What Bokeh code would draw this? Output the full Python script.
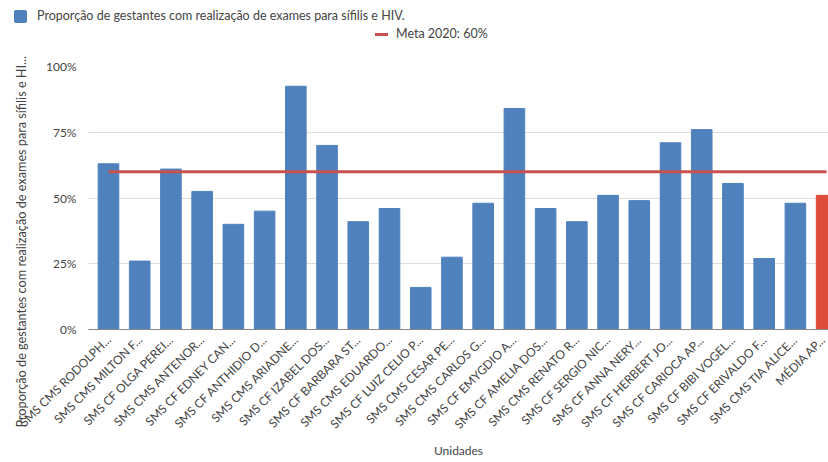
import math
from bokeh.plotting import figure
from bokeh.layouts import column
from bokeh.models import Range1d, FixedTicker, PrintfTickFormatter, Title, Div
from bokeh.embed import file_html
from bokeh.resources import INLINE

units = [
    "SMS CMS RODOLPH...", "SMS CMS MILTON F...", "SMS CF OLGA PEREI...", "SMS CMS ANTENOR...",
    "SMS CF EDNEY CAN...", "SMS CF ANTHIDIO D...", "SMS CMS ARIADNE...", "SMS CF IZABEL DOS...",
    "SMS CF BARBARA ST...", "SMS CMS EDUARDO...", "SMS CF LUIZ CELIO P...", "SMS CMS CESAR PE...",
    "SMS CMS CARLOS G...", "SMS CF EMYGDIO A...", "SMS CF AMELIA DOS...", "SMS CMS RENATO R...",
    "SMS CF SERGIO NIC...", "SMS CF ANNA NERY...", "SMS CF HERBERT JO...", "SMS CF CARIOCA AP...",
    "SMS CF BIBI VOGEL...", "SMS CF ERIVALDO F...", "SMS CMS TIA ALICE...", "MÉDIA AP...",
]
values = [63, 26, 61, 52.5, 40, 45, 92.5, 70, 41, 46, 16, 27.5,
          48, 84, 46, 41, 51, 49, 71, 76, 55.5, 27, 48, 51]
meta = 60
y_ticks = [0, 25, 50, 75, 100]

series_label = "Proporção de gestantes com realização de exames para sífilis e HIV."
meta_label = "Meta 2020: 60%"
y_label = "Proporção de gestantes com realização de exames para sífilis e HI..."
x_label = "Unidades"

BLUE = "#4F81BD"
RED_BAR = "#DD4B39"
RED_LINE = "#C9514E"
TXT = "#444444"
FONT = "Lato"

xs = list(range(len(units)))
colors = [BLUE] * (len(units) - 1) + [RED_BAR]

# ---------------- legend strip (two rows, as in the reference) ----------------
legend_html = f"""
<div style="position:relative;width:828px;height:56px;font-family:Lato;font-size:12.5px;color:{TXT};">
  <div style="position:absolute;left:14px;top:10px;width:13px;height:13px;background:{BLUE};border-radius:2px;"></div>
  <div style="position:absolute;left:37px;top:8px;line-height:16px;white-space:nowrap;">{series_label}</div>
  <div style="position:absolute;left:375px;top:32.5px;width:13px;height:3px;background:{RED_LINE};"></div>
  <div style="position:absolute;left:396px;top:26px;line-height:16px;white-space:nowrap;">{meta_label}</div>
</div>
"""
legend_div = Div(text=legend_html, width=828, height=56, margin=(0, 0, 0, 0))

# ---------------- main chart ----------------
p = figure(width=828, height=406, output_backend="svg", toolbar_location=None,
           x_range=Range1d(-0.64, 23.06), y_range=Range1d(0, 100),
           min_border_left=87, min_border_right=0, min_border_top=10, min_border_bottom=133)
p.outline_line_color = None

bars = p.vbar(x=xs, top=values, width=0.66, color=colors)
line = p.line(x=[xs[0], xs[-1]], y=[meta, meta], line_color=RED_LINE, line_width=3)

p.xaxis.ticker = FixedTicker(ticks=xs)
p.xaxis.major_label_overrides = {i: u for i, u in zip(xs, units)}
p.xaxis.major_label_orientation = math.pi / 4
p.xaxis.major_tick_line_color = None
p.xaxis.minor_tick_line_color = None
p.xaxis.axis_line_color = "#888888"
p.xaxis.major_label_text_font = FONT
p.xaxis.major_label_text_font_size = "12px"
p.xaxis.major_label_text_color = TXT
p.xaxis.major_label_standoff = 2
p.xaxis.axis_label = x_label
p.xaxis.axis_label_text_font = FONT
p.xaxis.axis_label_text_font_style = "normal"
p.xaxis.axis_label_text_font_size = "12px"
p.xaxis.axis_label_text_color = TXT
p.xaxis.axis_label_standoff = 3

p.yaxis.ticker = FixedTicker(ticks=y_ticks)
p.yaxis.formatter = PrintfTickFormatter(format="%d%%")
p.yaxis.axis_line_color = None
p.yaxis.major_tick_line_color = None
p.yaxis.minor_tick_line_color = None
p.yaxis.major_label_text_font = FONT
p.yaxis.major_label_text_font_size = "12px"
p.yaxis.major_label_text_color = TXT
p.yaxis.major_label_standoff = 6

# y title: starts below the frame, as in the reference
p.add_layout(Title(text=y_label, align="left", vertical_align="top", offset=-98, standoff=25,
                   text_font=FONT, text_font_size="12.7px", text_font_style="normal",
                   text_color=TXT), "left")

p.xgrid.grid_line_color = None
p.ygrid.grid_line_color = "#DDDDDD"
p.ygrid.ticker = FixedTicker(ticks=y_ticks)

page = column(legend_div, p, spacing=0)
open("out.html", "w", encoding="utf-8").write(file_html(page, INLINE))
